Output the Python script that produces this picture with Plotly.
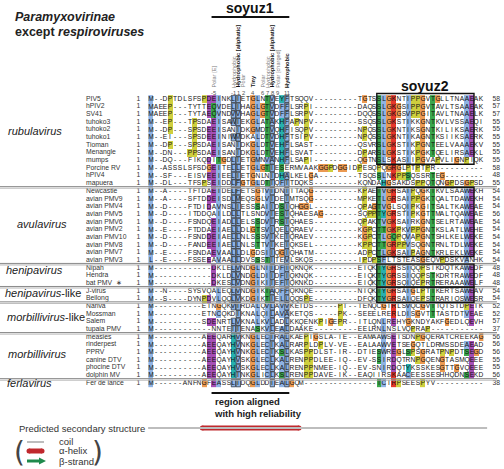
import plotly.graph_objects as go
import numpy as np
from collections import Counter

# ---------------- data ----------------
names = ["PIV5", "hPIV2", "SV41", "tuhoko3", "tuhoko2", "tuhoko1", "Tioman", "Menangle",
         "mumps", "Porcine RV", "hPIV4", "mapuera",
         "Newcastle", "avian PMV9", "avian PMV4", "avian PMV5", "avian PMV6", "avian PMV2",
         "avian PMV10", "avian PMV8", "avian PMV7", "avian PMV3",
         "Nipah", "Hendra", "bat PMV  \u2217", "J-virus", "Beilong",
         "Nariva", "Mossman", "Salem", "tupaia PMV",
         "measles", "rinderpest", "PPRV", "canine DTV", "phocine DTV", "dolphin MV",
         "Fer de lance"]

seqs = [
    "M--DPTDLSFSPDEINKLIETGLNTVEYFTSQQV---------TGTSSLGKNTIPPGVTGLLTNAAEAK",
    "MAEEP---TYTTEQVDELIHAGLGTVDFFLSRPI---------DAQSSLGKGSIPPGVTAVLTSAAEAK",
    "MAEEP---TYTAEQVNDVVHAGLGTVDFFLSRPV---------DQQSSLGKGSVPPGITAVLTNAAELK",
    "M--EP---TPSDAEISAWIEKGLATAKHFAPNPV---------SSQSSLGKSTIKKGNTKVLVSSAEQI",
    "M--DP---SPSDEEISANIDKGMDTVQHFISQPV---------NPQSSLGKNTIKSGNTKILIKSAERK",
    "M--EI---SPSDEEINIWMDKALDTVDHFTSIPV---------NPQSSLGKNTIKAGNTKSIIKSAERK",
    "M--DP---SPSDAEISANIDKGLDTVEHFLSAST---------QSVRSLGKSTIKPGNTEELVAAAEKV",
    "M--DN---PPSDAEISANIDKGLDTVEHFLSVAT---------DPARSLGKSTIKPGKTQELIRSAEKL",
    "M--DQ---FIKQDITGDLIETGMNVANHFLSAPI---------QGTNSLSKASIIPGVAPVLIGNPIQK",
    "M--ASSSLSFSDGEITELLETGLGTIESERMVAAKGGPDGGIDPESQPQGRGLPTPTPR----------",
    "M--SF---EISVEEIEELIETGNLNIDHALKELGA--------TSQSSLNKPPSQSSRTEG--------",
    "M--DL---TFSPSEIDDLFGTGLDTIQFITDQKS---------KQNDAHGSAKDSPPQTQNGPDSGPSD",
    "M--A----TFTDAEIDELFETSGTVIDNIITAQG---------KPAETVGRSAIPQGKTKVLSAAWEKH",
    "M--A----SFTDDEISDLMEQSGLVIDEIMTSQG---------MPKETLGRSAIPPGKTQALTDAWEKH",
    "M--D----FTDIDAVNSLIESSSAIIDSIQHGGL---------QPAGTVGLSQIPKGITSALTKAWEAE",
    "M--D----ITDDQAILDLLTLSNDVIESIQHAESAG-------SQPPTYGRSTIPKGTTMALTQAWEAE",
    "M--D----FSNDQEIADLLELSSDVIRSIQHAES---------QPAKTVGKSAIRKGNTSELRTAWEAE",
    "M--E----FTDDAEIAELLDLGTSVIQELQRAEV---------KGPCTTGKPKVPPGNTKSLATLWEHE",
    "M--D----FSNDDEIAELLNLSSSVIKEIQRAEV---------KGPCTLGQPQVAPGNTSHLKELWEKE",
    "M--D----FANDEEIAELLNLSTTVIKEIQKSEL---------KPPCTTGRPPVSQGNTRNLTDLWEKE",
    "M--E----FSNDAEVAALLDLGDSIIQGIQHATM---------ADPCTLGKSAIPAGNTKRLEKLWEKE",
    "L--E----FSSEEAVAALLDVSSSTITEVLSKQS---------IPDPSFLTSTEASGEQVPDSKVANHK",
    "M------------DKLELVNDGLNIIDFIQKNQK---------EIQKTYGRSSIQQPSIKDQTKAWEDF",
    "M------------DKLDLVNDGLDIIDFIQKNQK---------EIQKTYGRSSIQQPSTKDRTRAWEDF",
    "M------------DKESLVDNGIKIIEFIQKNKD---------EIQKTYGRSQIQEPRTRERAAAWELF",
    "M--N----SYSVQALEQLVNDGIKTAQFFQKNQE---------NIQKTYGRSAIGLPTTKERTSAWEAV",
    "M--S----DYNPDVLQQLVKDGIKTIELLQQSPE---------DFQKTYGRSAIQEPSTRARIQSWESR",
    "M----------ETNGQKVIRDALQVLAVVKETDS-----PT--TENQCGIRLSVQCGVTTQTSTDPETK",
    "M----------ETNCQKDIKNALQILAVAKETQS-----PK--SEEELRERLDISGVTTTASTDTVEAE",
    "M----------SDENRTLVKNALKVLADLKKQENKPIGEPR--ITLQNLREHYGKNDYAKFGEDLQEVH",
    "M------------NNTEIIENASKVLEALDAAKE---------EELRNLNSLVQPRAP-----------",
    "M----------AEEQARHVKNGLECIRALKAEPIGSLA-IE--EAMAAWSEISDNPGQERATCREEKAG",
    "M----------AEEQAYHVNKGLECIKALRARPLDPLV-VE--EALAAWVETSEGQTLDRMSSDEAEAD",
    "M----------AEEQAYHVNKGLECIKSLKASPPDLST-IR--DTIESWREGLSPSGRATPNPDTSEGD",
    "M----------AEEQAYHVSKGLECLKALRENPPDLEE-IQ--EV-SSIRDQTRNPGQENGTASMQEEE",
    "M----------AEEQAYHVSKGLECLKALRENPPNMEE-IQ--EV-SNIRDQTYKSSKESGTTGVQEEE",
    "M----------AEEQAYHINKGLICLKSLRENPPDAVE-IK--EAQIIRSKAACEESSESHHQDNSEKD",
    "M------ANFNGFEASSLIDQGLDDIEALGQM---------------TCIRPSEESPYV----------",
]

starts = [1] * 38
ends = [58, 57, 57, 55, 55, 55, 55, 55, 55, 58, 48, 55,
        54, 54, 54, 56, 54, 54, 54, 54, 54, 54,
        48, 48, 48, 54, 54,
        52, 52, 57, 37,
        56, 56, 56, 55, 55, 56,
        38]

group_names = ["<i>rubulavirus</i>", "<i>avulavirus</i>", "<i>henipavirus</i>",
               "<i>henipavirus</i>-like", "<i>morbillivirus</i>-like",
               "<i>morbillivirus</i>", "<i>ferlavirus</i>"]
group_label_px = [(6, 131), (15, 224), (4, 270), (3, 293), (5, 317), (6, 354), (5, 383)]
group_breaks = [12, 22, 25, 27, 31, 37]        # first row of each new group
box_rows = [(0, 8), (12, 20), (22, 24), (25, 26)]
soyuz1_cols = (14, 29)
soyuz2_cols = (48, 67)

pos_cols = [14, 18, 19, 20, 22, 24, 25, 26, 27, 29]
pos_nums = ["-5", "-1", "1", "2", "4", "6", "7", "8", "9", "11"]
pos_props = ["Polar [E]", "Hydrophobic", "Hydrophobic [aliphatic]", "Polar", "Tiny",
             "Polar", "Hydrophobic", "Hydrophobic [aliphatic]", "Polar [charged]", "Hydrophobic"]
pos_strong = [False, False, True, False, True, False, False, True, False, True]
outline_cols = [18, 19, 26, 29]

helix_cols = (11.6, 31.5)
coil_cols = (0.45, 70.2)

# ---------------- geometry ----------------
W, H = 504, 469
X0, CW = 150.8, 4.86     # centre of column 1 and column pitch (px)
Y0, RH = 99.0, 7.68      # centre of row 0 and row pitch (px)
NCOL = 69


def xd(px):
    return 1 + (px - X0) / CW


def yd(py):
    return (py - Y0) / RH


FONT = "Liberation Sans, Arial, Helvetica, sans-serif"

seqs = [(s + "-" * NCOL)[:NCOL] for s in seqs]
nrow = len(seqs)

# ---------------- Clustal X colouring ----------------
NONE, BLUE, RED, GREEN, MAGENTA, ORANGE, YELLOW, CYAN, PINK = range(9)
palette = ["#ffffff", "#8fb3e3", "#e5372a", "#3aa64c", "#a64fb5", "#eb9a52",
           "#cfcf3e", "#27b0ae", "#f08080"]

codes = np.zeros((nrow, NCOL), dtype=int)
for c in range(NCOL):
    col = [s[c] for s in seqs]
    cnt = Counter(col)

    def pct(letters):
        return 100.0 * sum(cnt[a] for a in letters) / nrow

    def anyp(letters, thr):
        return any(pct(a) > thr for a in letters)

    hyd = pct("WLVIMAFCHP")
    for r, a in enumerate(col):
        k = NONE
        if a == "G":
            k = ORANGE
        elif a == "P":
            k = YELLOW
        elif a in "AILMFWV":
            if hyd > 60:
                k = BLUE
        elif a == "C":
            if pct("C") > 85:
                k = PINK
            elif hyd > 60:
                k = BLUE
        elif a in "KR":
            if pct("KR") > 60 or anyp("KRQ", 80):
                k = RED
        elif a == "N":
            if pct("N") > 50 or anyp("NY", 85):
                k = GREEN
        elif a == "Q":
            if pct("KR") > 60 or pct("QE") > 50 or anyp("QEKR", 85):
                k = GREEN
        elif a == "E":
            if pct("KR") > 60 or pct("QE") > 50 or pct("ED") > 50 or anyp("EQD", 85):
                k = MAGENTA
        elif a == "D":
            if pct("KR") > 60 or anyp("KRQ", 85) or pct("ED") > 50:
                k = MAGENTA
        elif a in "HY":
            if hyd > 60 or anyp("WYACPQFHILMV", 85):
                k = CYAN
        elif a in "ST":
            if hyd > 60 or pct("TS") > 50 or anyp("ST", 85):
                k = GREEN
        codes[r, c] = k

ncode = len(palette)
cscale = []
for i, colr in enumerate(palette):
    cscale.append([i / ncode, colr])
    cscale.append([(i + 1) / ncode, colr])

letters = [list(s) for s in seqs]

fig = go.Figure()
fig.add_trace(go.Heatmap(
    z=codes, x=list(range(1, NCOL + 1)), y=list(range(nrow)),
    colorscale=cscale, zmin=-0.5, zmax=ncode - 0.5, showscale=False,
    text=letters, texttemplate="%{text}",
    textfont=dict(family=FONT, size=6.6, color="#111111"),
    hoverinfo="skip", xgap=0, ygap=0))

# names, start numbers, end numbers
rows = list(range(nrow))
fig.add_trace(go.Scatter(x=[xd(86)] * nrow, y=rows, mode="text", text=names,
                         textposition="middle right",
                         textfont=dict(family=FONT, size=6.8, color="#333333"),
                         hoverinfo="skip"))
fig.add_trace(go.Scatter(x=[xd(138.5)] * nrow, y=rows, mode="text",
                         text=[str(v) for v in starts],
                         textfont=dict(family=FONT, size=6.8, color="#333333"),
                         hoverinfo="skip"))
fig.add_trace(go.Scatter(x=[xd(492.5)] * nrow, y=rows, mode="text",
                         text=[str(v) for v in ends], textposition="middle right",
                         textfont=dict(family=FONT, size=6.8, color="#333333"),
                         hoverinfo="skip"))

shapes = []
annotations = []

# outlined residues at the key hydrophobic positions
for c in outline_cols:
    for r in range(nrow):
        if seqs[r][c - 1] in "AVILMFWC":
            shapes.append(dict(type="rect", xref="x", yref="y",
                               x0=c - 0.45, x1=c + 0.45, y0=r - 0.47, y1=r + 0.47,
                               line=dict(color="#3a3a3a", width=0.7)))

# group separators (double grey rule)
for b in group_breaks:
    yb = b - 0.5
    for off, colr in ((-0.09, "#8a8a8a"), (0.11, "#b5b5b5")):
        shapes.append(dict(type="line", xref="x", yref="y", x0=xd(0), x1=xd(497),
                           y0=yb + off, y1=yb + off, line=dict(color=colr, width=1)))

# soyuz2 boxes
for i, (ra, rb) in enumerate(box_rows):
    top = yd(93.5) if i == 0 else ra - 0.5
    shapes.append(dict(type="rect", xref="x", yref="y",
                       x0=soyuz2_cols[0] - 0.5, x1=soyuz2_cols[1] + 0.5,
                       y0=top, y1=rb + 0.5, line=dict(color="#111111", width=1.4)))

# soyuz1 bar and bottom bar
for ypx in (17, 393):
    shapes.append(dict(type="line", xref="x", yref="y",
                       x0=soyuz1_cols[0] - 0.5, x1=soyuz1_cols[1] + 0.5,
                       y0=yd(ypx), y1=yd(ypx), line=dict(color="#111111", width=2.2)))

annotations.append(dict(x=(soyuz1_cols[0] + soyuz1_cols[1]) / 2, y=yd(8), xref="x", yref="y",
                        text="<b>soyuz1</b>", showarrow=False,
                        font=dict(family=FONT, size=14, color="#111111")))
annotations.append(dict(x=(soyuz2_cols[0] + soyuz2_cols[1]) / 2, y=yd(86), xref="x", yref="y",
                        text="<b>soyuz2</b>", showarrow=False,
                        font=dict(family=FONT, size=14, color="#111111")))

# position property labels
for c, num, prop, strong in zip(pos_cols, pos_nums, pos_props, pos_strong):
    annotations.append(dict(x=c, y=yd(88.5), xref="x", yref="y", textangle=-90,
                            text=("<b>%s</b>" % prop) if strong else prop,
                            showarrow=False, xanchor="center", yanchor="bottom",
                            borderpad=0,
                            font=dict(family=FONT, size=5.6,
                                      color="#111111" if strong else "#7a7a7a")))
    annotations.append(dict(x=c, y=yd(93.3), xref="x", yref="y", text=num,
                            showarrow=False, borderpad=0,
                            font=dict(family=FONT, size=5.8, color="#555555")))

# title
annotations.append(dict(x=xd(13), y=yd(17), xref="x", yref="y", xanchor="left",
                        text="<b><i>Paramyxovirinae</i></b>", showarrow=False,
                        font=dict(family=FONT, size=12.5, color="#222222")))
annotations.append(dict(x=xd(13), y=yd(32), xref="x", yref="y", xanchor="left",
                        text="<b>except <i>respiroviruses</i></b>", showarrow=False,
                        font=dict(family=FONT, size=12.5, color="#222222")))

# group labels
for g, (gx, gy) in zip(group_names, group_label_px):
    annotations.append(dict(x=xd(gx), y=yd(gy), xref="x", yref="y", xanchor="left",
                            text=g, showarrow=False,
                            font=dict(family=FONT, size=11, color="#222222")))

# region aligned text
annotations.append(dict(x=xd(212), y=yd(407.5), xref="x", yref="y", xanchor="left",
                        align="left",
                        text="<b>region aligned<br>with high reliability</b>", showarrow=False,
                        font=dict(family=FONT, size=9.5, color="#222222")))

# predicted secondary structure
annotations.append(dict(x=xd(17), y=yd(428), xref="x", yref="y", xanchor="left",
                        text="Predicted secondary structure", showarrow=False,
                        font=dict(family=FONT, size=9.5, color="#333333")))
shapes.append(dict(type="line", xref="x", yref="y", x0=coil_cols[0], x1=coil_cols[1],
                   y0=yd(428), y1=yd(428), line=dict(color="#bdbdbd", width=2)))
fig.add_trace(go.Scatter(x=[helix_cols[0], helix_cols[1]], y=[yd(428), yd(428)],
                         mode="lines+markers", line=dict(color="#c0282d", width=5),
                         marker=dict(size=5, color="#c0282d"), hoverinfo="skip"))

# legend
shapes.append(dict(type="line", xref="x", yref="y", x0=xd(27), x1=xd(44),
                   y0=yd(442), y1=yd(442), line=dict(color="#bdbdbd", width=2)))
fig.add_trace(go.Scatter(x=[xd(29), xd(42)], y=[yd(451), yd(451)],
                         mode="lines+markers", line=dict(color="#c0282d", width=5),
                         marker=dict(size=5, color="#c0282d"), hoverinfo="skip"))
shapes.append(dict(type="line", xref="x", yref="y", x0=xd(27), x1=xd(40),
                   y0=yd(461), y1=yd(461), line=dict(color="#1f8a4c", width=3)))
shapes.append(dict(type="path", xref="x", yref="y",
                   path="M %f %f L %f %f L %f %f Z" % (xd(39), yd(457.5), xd(46), yd(461),
                                                       xd(39), yd(464.5)),
                   fillcolor="#1f8a4c", line=dict(color="#1f8a4c", width=0)))
for t, ypx in (("coil", 441.5), ("\u03b1-helix", 450.5), ("\u03b2-strand", 461)):
    annotations.append(dict(x=xd(57), y=yd(ypx), xref="x", yref="y", xanchor="left",
                            text=t, showarrow=False,
                            font=dict(family=FONT, size=9.5, color="#333333")))
for t, xpx in (("(", 19), (")", 97)):
    annotations.append(dict(x=xd(xpx), y=yd(452), xref="x", yref="y",
                            text=t, showarrow=False,
                            font=dict(family="DejaVu Sans, sans-serif", size=28,
                                      color="#444444")))

fig.update_layout(
    width=W, height=H, margin=dict(l=0, r=0, t=0, b=0),
    paper_bgcolor="white", plot_bgcolor="white", showlegend=False,
    xaxis=dict(range=[xd(0), xd(W)], visible=False, fixedrange=True),
    yaxis=dict(range=[yd(H), yd(0)], visible=False, fixedrange=True),
    shapes=shapes, annotations=annotations,
)

fig.write_html("out.html",
               config={"displayModeBar": False, "staticPlot": True},
               post_script="document.body.style.margin='0px';"
                           "document.body.style.overflow='hidden';")
